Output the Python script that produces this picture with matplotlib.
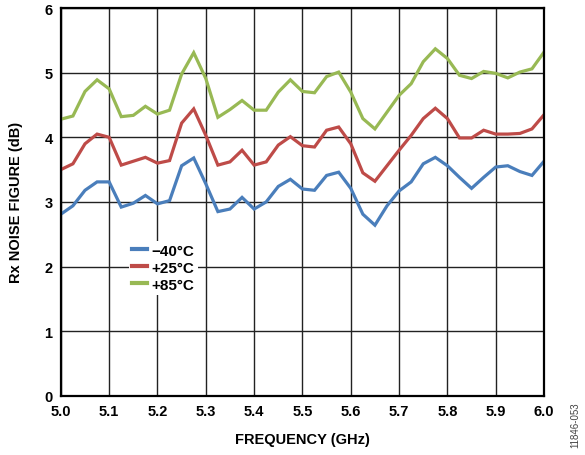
import numpy as np
import matplotlib.pyplot as plt

# frequency points (GHz)
freq = np.linspace(5.0, 6.0, 41)

nf_m40 = [2.81, 2.94, 3.18, 3.31, 3.31, 2.92, 2.98, 3.10, 2.97, 3.02,
          3.56, 3.68, 3.28, 2.85, 2.89, 3.07, 2.89, 3.00, 3.24, 3.35,
          3.20, 3.18, 3.41, 3.46, 3.21, 2.81, 2.64, 2.94, 3.17, 3.31,
          3.59, 3.69, 3.56, 3.38, 3.21, 3.38, 3.54, 3.56, 3.47, 3.41, 3.63]
nf_25 = [3.50, 3.59, 3.90, 4.05, 4.00, 3.57, 3.63, 3.69, 3.60, 3.64,
         4.22, 4.44, 4.03, 3.57, 3.62, 3.80, 3.57, 3.62, 3.88, 4.01,
         3.87, 3.85, 4.11, 4.16, 3.90, 3.45, 3.32, 3.56, 3.80, 4.03,
         4.29, 4.45, 4.29, 3.99, 3.99, 4.11, 4.05, 4.05, 4.06, 4.13, 4.35]
nf_85 = [4.28, 4.33, 4.71, 4.89, 4.75, 4.32, 4.34, 4.48, 4.36, 4.42,
         4.98, 5.31, 4.91, 4.31, 4.43, 4.57, 4.42, 4.42, 4.70, 4.89,
         4.71, 4.69, 4.94, 5.01, 4.70, 4.29, 4.13, 4.39, 4.65, 4.83,
         5.17, 5.37, 5.22, 4.96, 4.91, 5.02, 4.99, 4.92, 5.01, 5.06, 5.32]

labels = ["\u221240\u00b0C", "+25\u00b0C", "+85\u00b0C"]
colors = ["#4a7ebb", "#be4b48", "#98b954"]

plt.rcParams['font.family'] = ['Liberation Sans', 'DejaVu Sans']
fig = plt.figure(figsize=(5.85, 4.56), dpi=100)
ax = fig.add_axes([0.104, 0.130, 0.826, 0.850])

for y, lab, c in zip([nf_m40, nf_25, nf_85], labels, colors):
    ax.plot(freq, y, color=c, lw=2.3, label=lab, solid_joinstyle='miter')

ax.set_xlim(5.0, 6.0)
ax.set_ylim(0, 6)
ax.set_xticks(np.arange(5.0, 6.01, 0.1))
ax.set_xticklabels(["%.1f" % v for v in np.arange(5.0, 6.01, 0.1)])
ax.set_yticks(range(0, 7))
ax.grid(True, color='#222222', lw=1.0)
ax.tick_params(length=0, labelsize=10.5, pad=6)
for t in ax.get_xticklabels() + ax.get_yticklabels():
    t.set_fontweight('bold')
for s in ax.spines.values():
    s.set_linewidth(1.6)
    s.set_color('black')

ax.set_xlabel("FREQUENCY (GHz)", fontsize=10.5, fontweight='bold', labelpad=10)
ax.set_ylabel("Rx NOISE FIGURE (dB)", fontsize=10.5, fontweight='bold', labelpad=15)

leg = ax.legend(loc='upper left', bbox_to_anchor=(0.125, 0.42), frameon=True,
                fancybox=False, handlelength=1.0, handletextpad=0.3,
                labelspacing=0.2, borderpad=0.2, fontsize=11)
leg.get_frame().set_edgecolor('none')
leg.get_frame().set_facecolor('white')
leg.get_frame().set_alpha(1)
for t in leg.get_texts():
    t.set_fontweight('bold')
for h in leg.get_lines():
    h.set_linewidth(3)

fig.text(0.983, 0.018, "11846-053", rotation=90, fontsize=7, color='#444444',
         ha='center', va='bottom')

fig.savefig("out.png", dpi=100)
